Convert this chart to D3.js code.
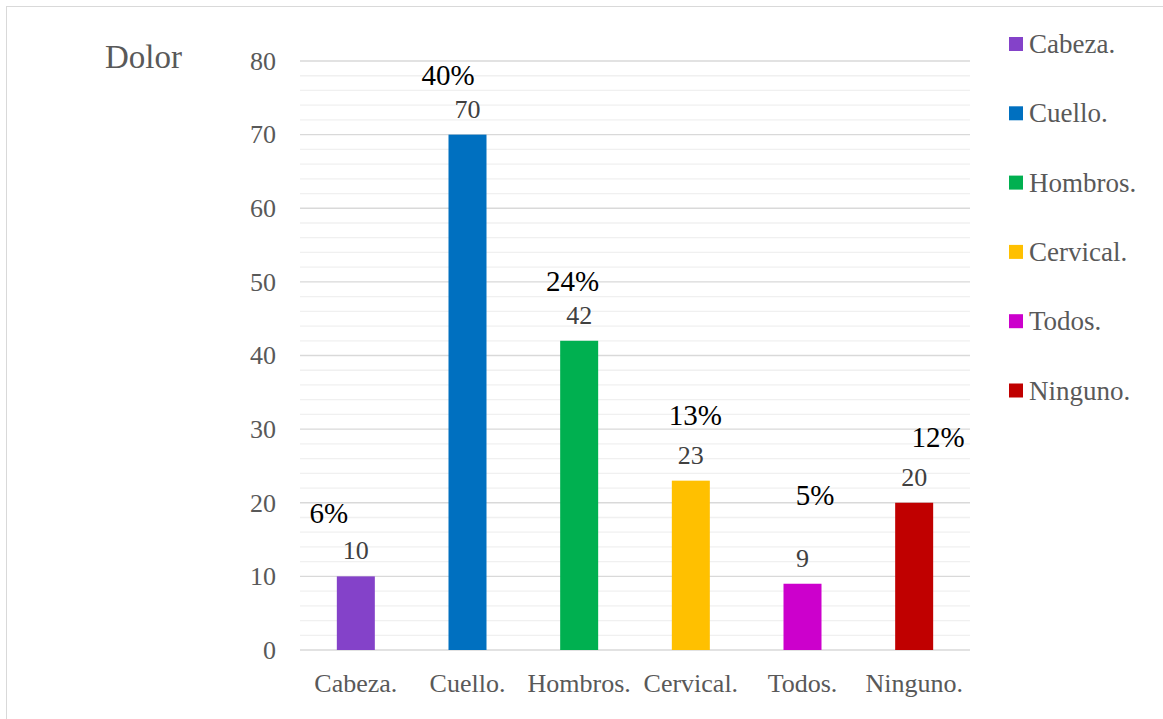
<!DOCTYPE html>
<html><head><meta charset="utf-8">
<script src="https://cdn.jsdelivr.net/npm/d3@7"></script>
<style>body{margin:0;background:#fff}svg{display:block}
svg text{font-family:"Times New Roman","Liberation Serif",Tinos,"DejaVu Serif",serif}</style>
</head><body>
<svg id="c" width="1163" height="719"></svg>
<script>
// ---- data ----
const categories = ["Cabeza.", "Cuello.", "Hombros.", "Cervical.", "Todos.", "Ninguno."];
const values = [10, 70, 42, 23, 9, 20];
const percentLabels = ["6%", "40%", "24%", "13%", "5%", "12%"];
const colors = ["#8442C9", "#0070C0", "#00B050", "#FFC000", "#CC00CC", "#C00000"];
const yTicks = [0, 10, 20, 30, 40, 50, 60, 70, 80];
const yTitle = "Dolor";

// ---- layout (manually placed percentage labels, offsets from bar top-centre) ----
const pctOffsets = [[-27, -53], [-19.5, -50], [-6.5, -50], [4.5, -56], [12.5, -79], [24, -56]];

const svg = d3.select("#c");
const L = 300, R = 970, T = 61, B = 650;

// outer border
svg.append("rect").attr("x", 6.5).attr("y", 6.5).attr("width", 1170).attr("height", 730)
  .attr("fill", "#fff").attr("stroke", "#d9d9d9").attr("stroke-width", 1);

const x = d3.scaleBand().domain(categories).range([L, R]).paddingInner(0).paddingOuter(0);
const y = d3.scaleLinear().domain([0, 80]).range([B, T]);

// minor gridlines
const minor = d3.range(0, 81, 2).filter(v => v % 10 !== 0);
svg.append("g").selectAll("line").data(minor).join("line")
  .attr("x1", L).attr("x2", R).attr("y1", d => y(d)).attr("y2", d => y(d))
  .attr("stroke", "#f0f0f0").attr("stroke-width", 1.3);
// major gridlines
svg.append("g").selectAll("line").data(yTicks).join("line")
  .attr("x1", L).attr("x2", R).attr("y1", d => y(d)).attr("y2", d => y(d))
  .attr("stroke", "#d9d9d9").attr("stroke-width", 1.3);

// y axis labels
const yAxis = d3.axisLeft(y).tickValues(yTicks).tickSize(0).tickPadding(0);
const gy = svg.append("g").attr("transform", `translate(276,0)`).call(yAxis);
gy.attr("font-family", null).attr("font-size", null);
gy.select(".domain").remove();
gy.selectAll("text").attr("font-size", 26).attr("fill", "#595959").attr("dy", "0.32em");

// x axis labels
const xAxis = d3.axisBottom(x).tickSize(0).tickPadding(0);
const gx = svg.append("g").attr("transform", `translate(0,${B})`).call(xAxis);
gx.attr("font-family", null).attr("font-size", null);
gx.select(".domain").remove();
gx.selectAll("text").attr("font-size", 26).attr("fill", "#595959")
  .attr("dy", null).attr("y", 42);

// bars
const bw = 38;
svg.append("g").selectAll("rect").data(values).join("rect")
  .attr("x", (d, i) => x(categories[i]) + x.bandwidth() / 2 - bw / 2)
  .attr("width", bw)
  .attr("y", d => y(d)).attr("height", d => B - y(d))
  .attr("fill", (d, i) => colors[i]);

// value labels
svg.append("g").selectAll("text").data(values).join("text")
  .attr("x", (d, i) => x(categories[i]) + x.bandwidth() / 2)
  .attr("y", d => y(d) - 17)
  .attr("text-anchor", "middle").attr("font-size", 26).attr("fill", "#404040")
  .text(d => d);

// percentage labels
svg.append("g").selectAll("text").data(percentLabels).join("text")
  .attr("x", (d, i) => x(categories[i]) + x.bandwidth() / 2 + pctOffsets[i][0])
  .attr("y", (d, i) => y(values[i]) + pctOffsets[i][1])
  .attr("text-anchor", "middle").attr("font-size", 29).attr("fill", "#000")
  .text(d => d);

// y title
svg.append("text").attr("x", 105).attr("y", 68).attr("font-size", 33)
  .attr("fill", "#595959").text(yTitle);

// legend
const lg = svg.append("g");
categories.forEach((c, i) => {
  const cy = 44 + i * 69.3;
  lg.append("rect").attr("x", 1009).attr("y", cy - 7).attr("width", 14).attr("height", 14).attr("fill", colors[i]);
  lg.append("text").attr("x", 1029).attr("y", cy + 9).attr("font-size", 27)
    .attr("fill", "#595959").text(c);
});
</script>
</body></html>
